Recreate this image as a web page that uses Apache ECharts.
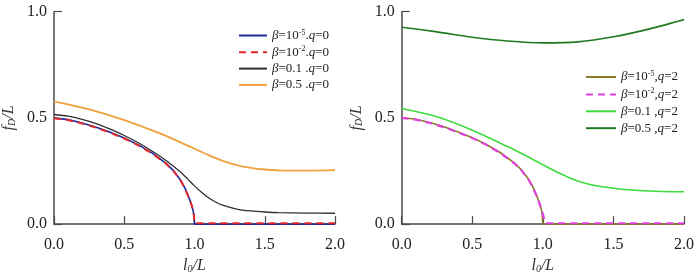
<!DOCTYPE html>
<html><head><meta charset="utf-8">
<script src="https://cdn.jsdelivr.net/npm/echarts@6/dist/echarts.min.js"></script>
<style>html,body{margin:0;padding:0;background:#fff}#c{width:700px;height:279px}</style>
</head><body><div id="c"></div>
<script>
// ---- data ----
const xTicks = [0, 0.5, 1.0, 1.5, 2.0];
const yTicks = [0, 0.5, 1.0];

// cut-off curves (β=1e-5 and β=1e-2)
const xCut   = [0,0.1,0.2,0.3,0.4,0.5,0.6,0.7,0.8,0.85,0.9,0.93,0.95,0.97,0.98,0.99,0.995,1.0,1.5,2.0];
const yBlue  = [0.5,0.492,0.476,0.456,0.432,0.405,0.373,0.334,0.285,0.252,0.208,0.172,0.142,0.108,0.09,0.064,0.045,0,0,0];
const yRed   = [0.498,0.49,0.474,0.454,0.430,0.403,0.371,0.332,0.283,0.250,0.206,0.170,0.140,0.106,0.088,0.062,0.044,0.004,0.004,0.004];

const xB01q0 = [0,0.1,0.2,0.3,0.4,0.5,0.6,0.7,0.8,0.9,0.95,1.0,1.05,1.1,1.15,1.2,1.3,1.4,1.5,1.6,1.8,2.0];
const yB01q0 = [0.516,0.508,0.493,0.473,0.447,0.417,0.383,0.343,0.298,0.245,0.213,0.18,0.15,0.124,0.104,0.089,0.071,0.062,0.057,0.054,0.052,0.051];

const xB05q0 = [0,0.25,0.5,0.75,0.9,1.0,1.1,1.2,1.3,1.4,1.5,1.6,1.7,1.8,2.0];
const yB05q0 = [0.578,0.54,0.49,0.428,0.385,0.355,0.325,0.298,0.278,0.265,0.257,0.253,0.252,0.252,0.254];

const yOlive   = [0.502,0.494,0.478,0.458,0.434,0.407,0.375,0.336,0.287,0.254,0.21,0.174,0.144,0.11,0.092,0.066,0.047,0,0,0];
const xMag     = [0,0.1,0.2,0.3,0.4,0.5,0.6,0.7,0.8,0.85,0.9,0.93,0.95,0.97,0.99,1.005,1.012,1.02,1.5,2.0];
const yMag     = [0.5,0.492,0.476,0.456,0.432,0.405,0.373,0.334,0.285,0.252,0.208,0.172,0.142,0.108,0.07,0.035,0.02,0.004,0.004,0.004];

const xB01q2 = [0,0.25,0.5,0.75,0.9,1.0,1.1,1.2,1.3,1.4,1.5,1.6,1.75,2.0];
const yB01q2 = [0.544,0.505,0.442,0.365,0.315,0.28,0.245,0.215,0.192,0.178,0.169,0.162,0.156,0.152];

const xB05q2 = [0,0.25,0.5,0.75,1.0,1.25,1.5,1.75,2.0];
const yB05q2 = [0.927,0.905,0.88,0.862,0.853,0.858,0.882,0.918,0.963];

const legendLeft  = ['b5q0','b2q0','b01q0','b05q0'];
const legendRight = ['b5q2','b2q2','b01q2','b05q2'];
const legendText = {
  b5q0: '{it|β}{n|=10}{sup|-5}{n|.}{it|q}{n|=0}',
  b2q0: '{it|β}{n|=10}{sup|-2}{n|.}{it|q}{n|=0}',
  b01q0:'{it|β}{n|=0.1 .}{it|q}{n|=0}',
  b05q0:'{it|β}{n|=0.5 .}{it|q}{n|=0}',
  b5q2: '{it|β}{n|=10}{sup|-5}{n|,}{it|q}{n|=2}',
  b2q2: '{it|β}{n|=10}{sup|-2}{n|,}{it|q}{n|=2}',
  b01q2:'{it|β}{n|=0.1 ,}{it|q}{n|=2}',
  b05q2:'{it|β}{n|=0.5 ,}{it|q}{n|=2}'
};

// ---- chart ----
const FONT = "'Liberation Serif','Times New Roman',serif";
const zip = (xs, ys) => xs.map((x, i) => [x, ys[i]]);
const axisColor = '#4a4a4a';
const richText = {
  n:  {fontFamily: FONT, fontSize: 13, color: '#222', lineHeight: 14},
  it: {fontFamily: FONT, fontSize: 13, fontStyle: 'italic', color: '#222', lineHeight: 14},
  sup:{fontFamily: FONT, fontSize: 8, color: '#222', lineHeight: 8, verticalAlign: 'top'}
};
const nameRich = {
  it:  {fontFamily: FONT, fontSize: 16, fontStyle: 'italic', color: '#333'},
  sub: {fontFamily: FONT, fontSize: 10, fontStyle: 'italic', color: '#333', verticalAlign: 'bottom', padding: [6,0,0,0]}
};

const grids = [
  {left: 53, right: 365, top: 11.7, bottom: 52},
  {left: 401.7, right: 16, top: 11.7, bottom: 52}
];
const xAxes = grids.map((g, i) => ({
  type: 'value', gridIndex: i, min: 0, max: 2, interval: 0.5,
  name: '{it|l}{sub|0}{it|/L}', nameLocation: 'middle', nameGap: 28,
  nameTextStyle: {rich: nameRich},
  axisLine: {show: true, onZero: false, lineStyle: {color: axisColor, width: 1.5}},
  axisTick: {show: true, inside: true, length: 8, lineStyle: {color: axisColor, width: 1.2}},
  axisLabel: {fontFamily: FONT, fontSize: 16, color: '#222', margin: 13, formatter: v => v.toFixed(1)},
  splitLine: {show: false}
}));
const yAxes = [];
grids.forEach((g, i) => {
  yAxes.push({
    type: 'value', gridIndex: i, min: 0, max: 1, interval: 0.5, position: 'left',
    name: '{it|f}{sub|D}{it|/L}', nameLocation: 'middle', nameGap: 37,
    nameTextStyle: {rich: nameRich},
    axisLine: {show: true, lineStyle: {color: axisColor, width: 1.5}},
    axisTick: {show: false},
    axisLabel: {fontFamily: FONT, fontSize: 16, color: '#222', margin: 7, formatter: v => v.toFixed(1)},
    splitLine: {show: false}
  });
  yAxes.push({
    type: 'value', gridIndex: i, min: 0, max: 1, interval: 1, position: 'left',
    axisLine: {show: false}, axisLabel: {show: false}, splitLine: {show: false},
    axisTick: {show: true, inside: true, length: 8, lineStyle: {color: axisColor, width: 1.2}}
  });
});

function line(name, data, gi, color, opts) {
  opts = opts || {};
  return {
    type: 'line', name, data, xAxisIndex: gi, yAxisIndex: gi * 2,
    symbol: 'none', showSymbol: false, silent: true,
    smooth: opts.smooth || false,
    lineStyle: {color, width: opts.width || 1.6, type: opts.dash ? [7, 5] : 'solid'},
    itemStyle: {color}, z: opts.z || 2
  };
}

const series = [
  line('b5q0', zip(xCut, yBlue), 0, '#1c2a9c', {z: 2}),
  line('b2q0', zip(xCut, yRed), 0, '#e3262a', {dash: true, width: 2, z: 3}),
  line('b01q0', zip(xB01q0, yB01q0), 0, '#2f2f2f', {smooth: 0.3, width: 1.3}),
  line('b05q0', zip(xB05q0, yB05q0), 0, '#f0a03c', {smooth: 0.3, width: 1.8}),
  line('b5q2', zip(xCut, yOlive), 1, '#8a7a2c', {width: 1.6, z: 2}),
  line('b2q2', zip(xMag, yMag), 1, '#e040e0', {dash: true, width: 2.2, z: 3}),
  line('b01q2', zip(xB01q2, yB01q2), 1, '#3ddc3d', {smooth: 0.3, width: 1.6}),
  line('b05q2', zip(xB05q2, yB05q2), 1, '#1f7a1f', {smooth: 0.3, width: 1.6})
];

const legendBase = {
  orient: 'vertical', itemWidth: 28, itemHeight: 12, itemGap: 3.3,
  selectedMode: false,
  itemStyle: {opacity: 0},
  lineStyle: {width: 2},
  formatter: n => legendText[n],
  textStyle: {rich: richText}
};

const chart = echarts.init(document.getElementById('c'), null, {renderer: 'canvas'});
chart.setOption({
  backgroundColor: '#fff',
  animation: false,
  grid: grids,
  xAxis: xAxes,
  yAxis: yAxes,
  legend: [
    Object.assign({}, legendBase, {data: legendLeft, left: 233, top: 23.5}),
    Object.assign({}, legendBase, {data: legendRight, left: 580, top: 65, itemWidth: 30, itemGap: 3.9})
  ],
  series
});
</script></body></html>
